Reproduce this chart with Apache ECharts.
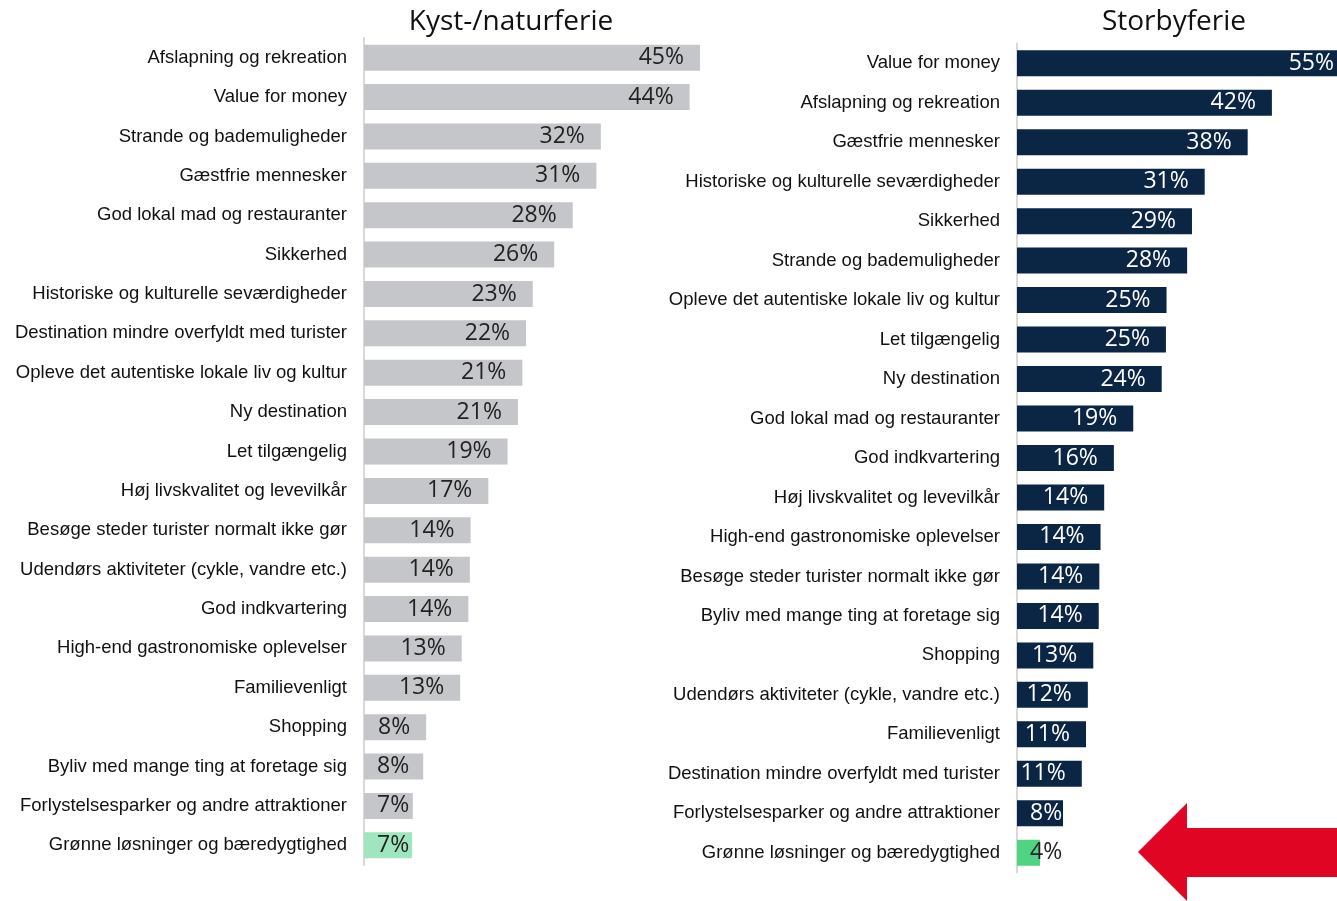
<!DOCTYPE html>
<html>
<head>
<meta charset="utf-8">
<title>Kyst-/naturferie og Storbyferie</title>
<script src="https://cdn.jsdelivr.net/npm/echarts@6/dist/echarts.min.js"></script>
<style>
  html, body { margin: 0; padding: 0; background: #ffffff; }
  #main { width: 1337px; height: 901px; }
</style>
</head>
<body>
<div id="main"></div>
<script>
// venstre panel: Kyst-/naturferie
const kystLabels = [
  'Afslapning og rekreation', 'Value for money', 'Strande og bademuligheder', 'Gæstfrie mennesker',
  'God lokal mad og restauranter', 'Sikkerhed', 'Historiske og kulturelle seværdigheder',
  'Destination mindre overfyldt med turister', 'Opleve det autentiske lokale liv og kultur',
  'Ny destination', 'Let tilgængelig', 'Høj livskvalitet og levevilkår',
  'Besøge steder turister normalt ikke gør', 'Udendørs aktiviteter (cykle, vandre etc.)',
  'God indkvartering', 'High-end gastronomiske oplevelser', 'Familievenligt', 'Shopping',
  'Byliv med mange ting at foretage sig', 'Forlystelsesparker og andre attraktioner',
  'Grønne løsninger og bæredygtighed'
]
const kystValues = [45.4, 44.0, 32.0, 31.4, 28.2, 25.7, 22.8, 21.9, 21.4, 20.8, 19.4, 16.8,
  14.4, 14.3, 14.1, 13.2, 13.0, 8.4, 8.0, 6.6, 6.5]

// højre panel: Storbyferie
const byLabels = [
  'Value for money', 'Afslapning og rekreation', 'Gæstfrie mennesker',
  'Historiske og kulturelle seværdigheder', 'Sikkerhed', 'Strande og bademuligheder',
  'Opleve det autentiske lokale liv og kultur', 'Let tilgængelig', 'Ny destination',
  'God lokal mad og restauranter', 'God indkvartering', 'Høj livskvalitet og levevilkår',
  'High-end gastronomiske oplevelser', 'Besøge steder turister normalt ikke gør',
  'Byliv med mange ting at foretage sig', 'Shopping', 'Udendørs aktiviteter (cykle, vandre etc.)',
  'Familievenligt', 'Destination mindre overfyldt med turister',
  'Forlystelsesparker og andre attraktioner', 'Grønne løsninger og bæredygtighed'
]
const byValues = [55.0, 42.1, 38.1, 31.0, 28.9, 28.1, 24.7, 24.6, 23.9, 19.2, 16.0, 14.4,
  13.8, 13.6, 13.5, 12.6, 11.7, 11.4, 10.7, 7.6, 3.8]

const greenKey = 'Grønne løsninger og bæredygtighed'

let myChart = echarts.init(document.getElementById('main'))

// korte søjler: label placeres fra aksen i stedet for fra enden
function buildData(labels, values, pxPerUnit, barColor, greenColor, textColor, greenText) {
  return values.map((v, i) => {
    let green = labels[i] === greenKey
    let short = v * pxPerUnit < 62
    return {
      value: v,
      itemStyle: { color: green ? greenColor : barColor },
      label: {
        position: short ? 'insideLeft' : 'insideRight',
        distance: short ? 13 : 16,
        color: green ? greenText : textColor
      }
    }
  })
}

const valueFont = '"Open Sans", "Lato", sans-serif'
const catLabel = {
  fontFamily: '"Liberation Sans", Arial, sans-serif',
  fontSize: 18.5,
  color: '#111111',
  margin: 17
}

let option = {
  animation: false,
  backgroundColor: '#ffffff',
  title: [
    {
      text: 'Kyst-/naturferie',
      left: 506, top: 3, textAlign: 'center',
      textStyle: { fontFamily: valueFont, fontSize: 28, fontWeight: 500, color: '#111111' }
    },
    {
      text: 'Storbyferie',
      left: 1169, top: 3, textAlign: 'center',
      textStyle: { fontFamily: valueFont, fontSize: 28, fontWeight: 500, color: '#111111' }
    }
  ],
  grid: [
    { left: 364, top: 38, width: 336, height: 827, outerBoundsMode: 'none' },
    { left: 1017, top: 43.5, width: 333, height: 829, outerBoundsMode: 'none' }
  ],
  xAxis: [
    { type: 'value', gridIndex: 0, min: 0, max: 45.4, show: false },
    { type: 'value', gridIndex: 1, min: 0, max: 55, show: false }
  ],
  yAxis: [
    {
      type: 'category', gridIndex: 0, inverse: true, data: kystLabels,
      axisLine: { lineStyle: { color: '#d9d9d9', width: 2 } },
      axisTick: { show: false },
      axisLabel: catLabel
    },
    {
      type: 'category', gridIndex: 1, inverse: true, data: byLabels,
      axisLine: { lineStyle: { color: '#d9d9d9', width: 2 } },
      axisTick: { show: false },
      axisLabel: catLabel
    }
  ],
  series: [
    {
      name: 'Kyst-/naturferie',
      type: 'bar',
      xAxisIndex: 0, yAxisIndex: 0,
      barWidth: 26,
      label: {
        show: true,
        fontFamily: valueFont, fontSize: 23,
        formatter: p => Math.round(p.value) + '%'
      },
      data: buildData(kystLabels, kystValues, 7.4, '#c5c6ca', '#9fe5bd', '#222222', '#222222')
    },
    {
      name: 'Storbyferie',
      type: 'bar',
      xAxisIndex: 1, yAxisIndex: 1,
      barWidth: 26,
      label: {
        show: true,
        fontFamily: valueFont, fontSize: 23,
        formatter: p => Math.round(p.value) + '%'
      },
      data: buildData(byLabels, byValues, 6.05, '#0b2545', '#50d484', '#ffffff', '#222222')
    }
  ],
  graphic: [
    {
      // rød pil mod "Grønne løsninger"
      type: 'polygon',
      shape: {
        points: [[1138, 852], [1187, 803], [1187, 828], [1337, 828], [1337, 877], [1187, 877], [1187, 901]]
      },
      style: { fill: '#e00522' }
    }
  ]
}

myChart.setOption(option)
</script>
</body>
</html>
